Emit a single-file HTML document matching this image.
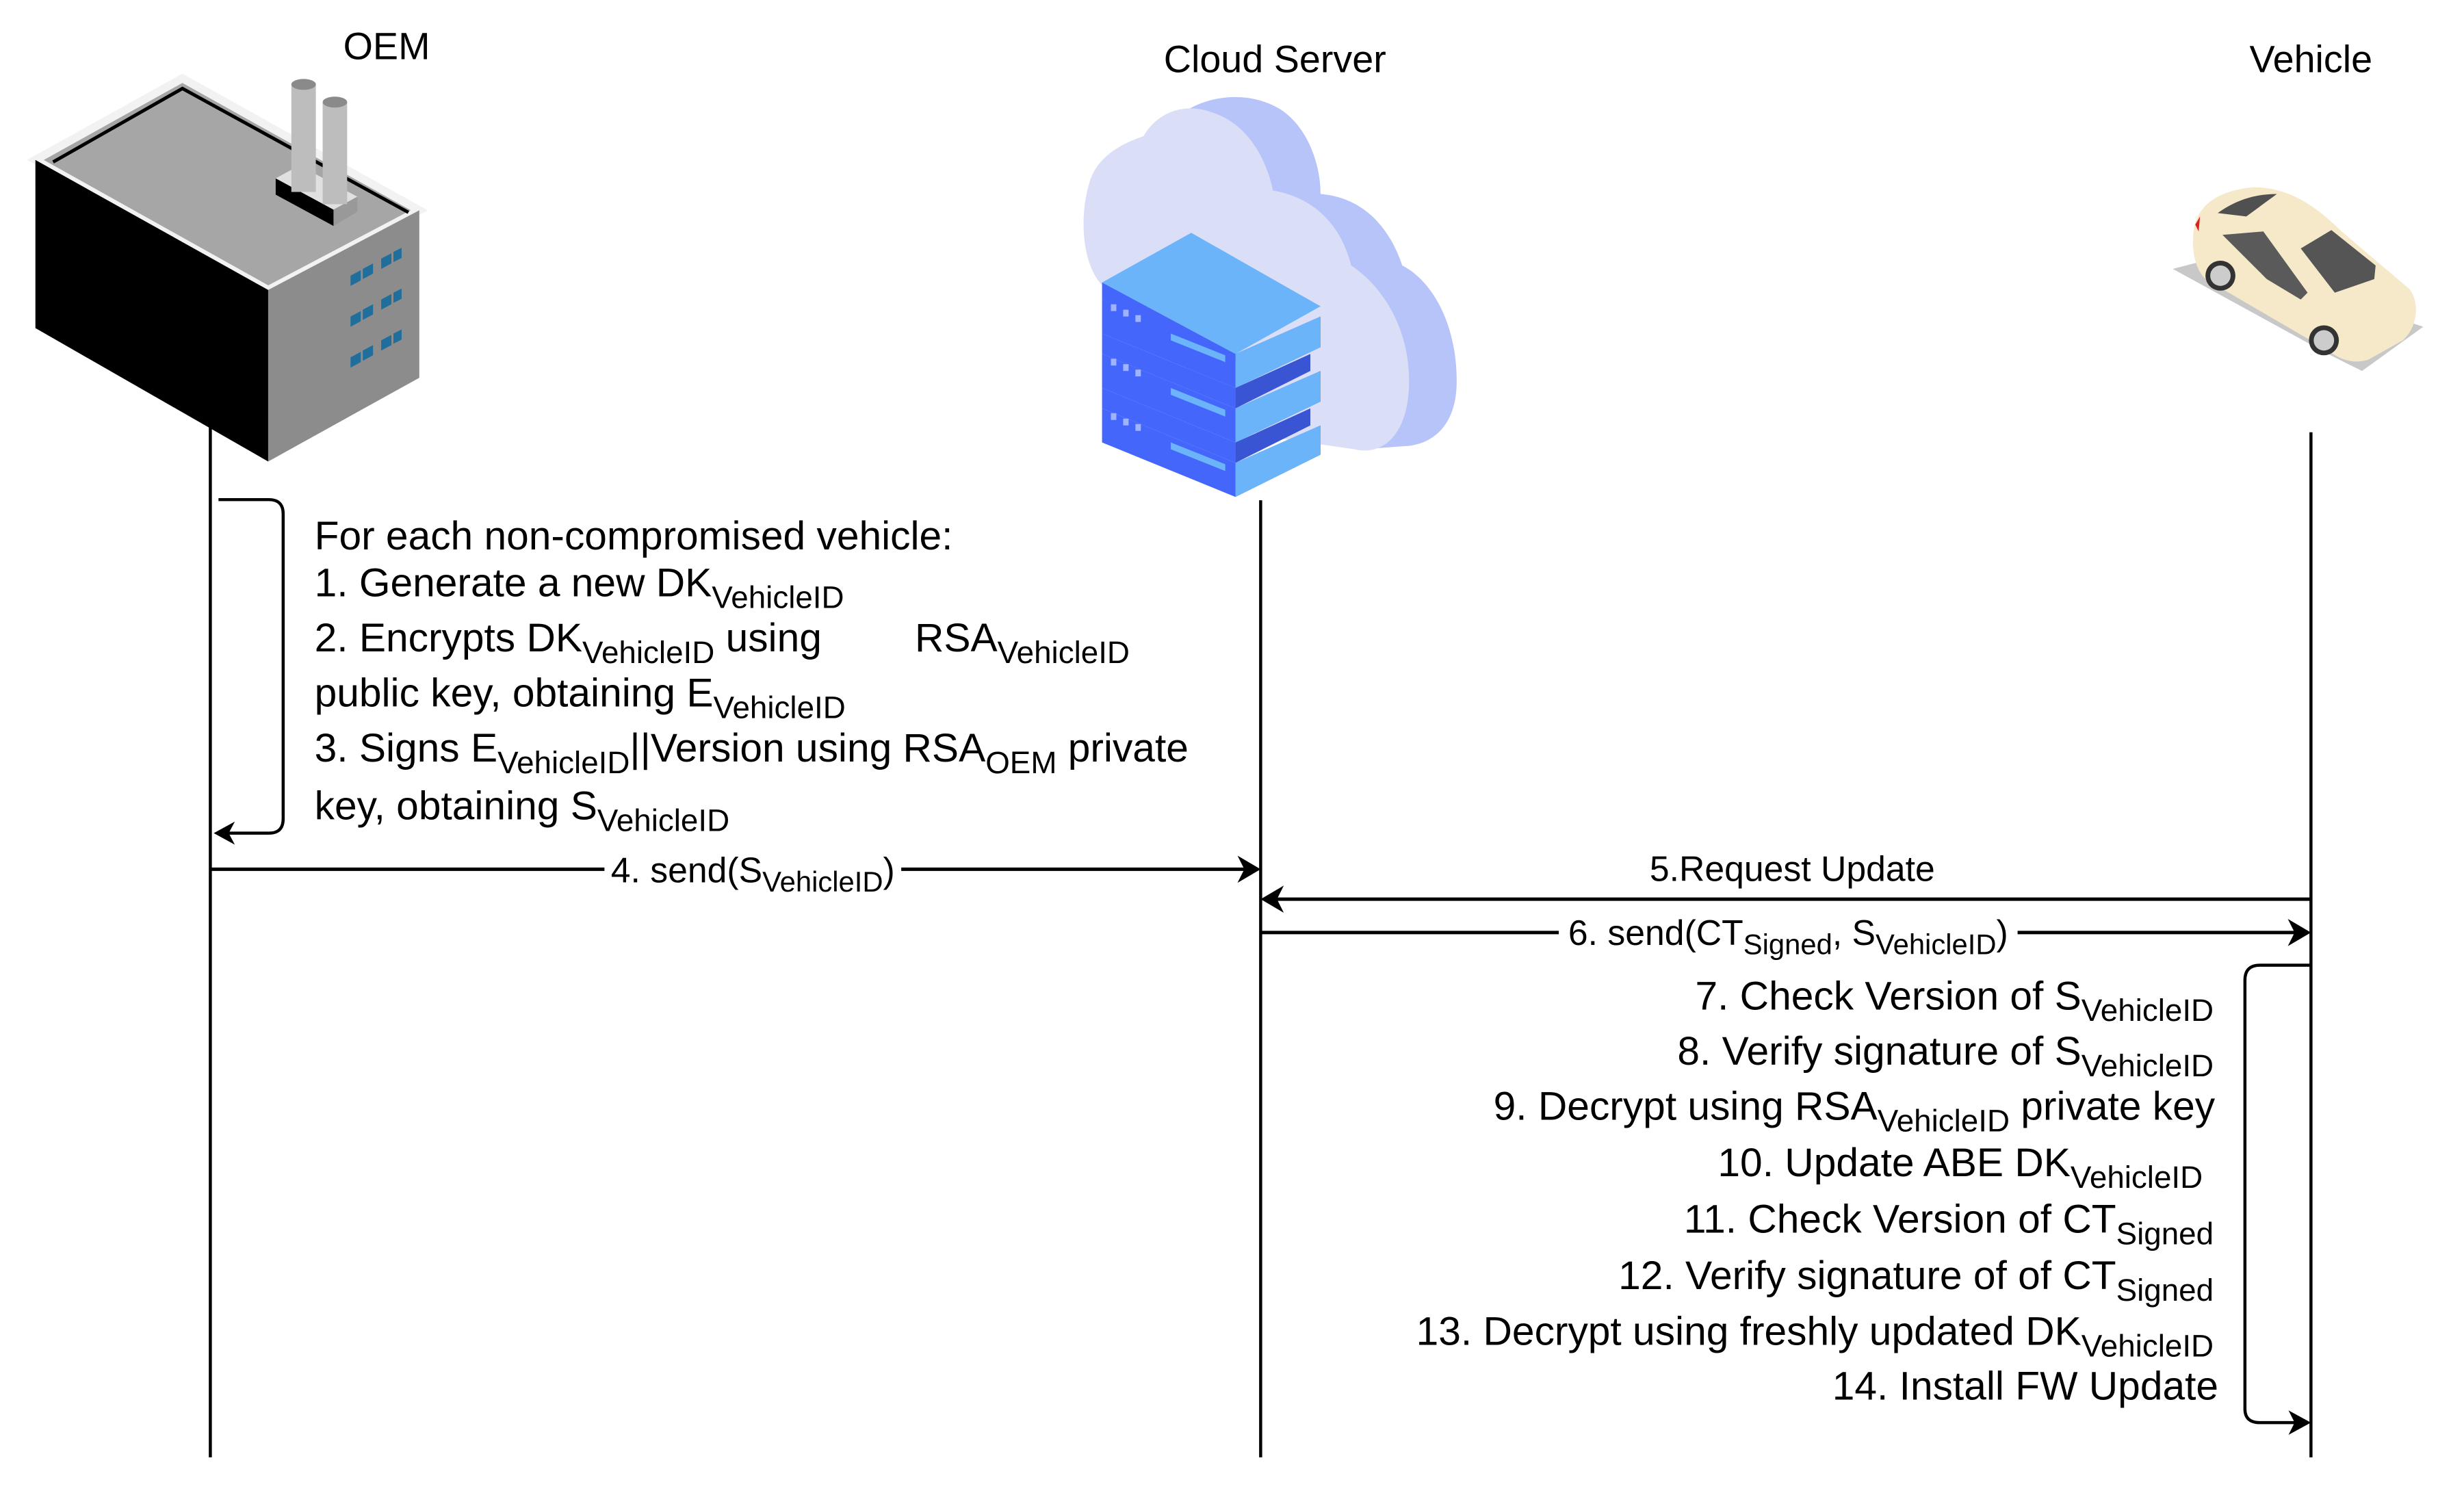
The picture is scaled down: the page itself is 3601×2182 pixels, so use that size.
<!DOCTYPE html>
<html><head><meta charset="utf-8"><style>
html,body{margin:0;padding:0;background:#fff;}
svg{display:block;}
text{font-family:"Liberation Sans",Arial,sans-serif;fill:#000;}
</style></head><body>
<svg width="3601" height="2182" viewBox="0 0 3601 2182" xmlns="http://www.w3.org/2000/svg">
<g transform="scale(0.9948)">
<!-- Titles -->
<text x="568" y="87" font-size="56" text-anchor="middle">OEM</text>
<text x="1873" y="106" font-size="56" text-anchor="middle">Cloud Server</text>
<text x="3395" y="106" font-size="56" text-anchor="middle">Vehicle</text>

<!-- Factory -->
<g>
<polygon points="52,235 268,115 616,309 394,426" fill="#a6a6a6"/>
<polygon points="52,235 268,115 616,309 394,426" fill="none" stroke="#f2f2f2" stroke-width="12"/>
<polyline points="78,238 268,130 600,312" fill="none" stroke="#000" stroke-width="5"/>
<polygon points="52,235 394,426 394,678 52,482" fill="#000"/>
<polygon points="394,426 616,309 616,555 394,678" fill="#8c8c8c"/>
<polygon points="405,262 490,308 490,332 405,286" fill="#000"/>
<polygon points="405,262 440,243 525,289 490,308" fill="#e0e0e0"/>
<polygon points="490,308 525,289 525,311 490,332" fill="#999"/>
<rect x="428" y="122" width="36" height="160" fill="#bdbdbd"/>
<ellipse cx="446" cy="124" rx="18" ry="8" fill="#8a8a8a"/>
<rect x="474" y="150" width="36" height="150" fill="#bdbdbd"/>
<ellipse cx="492" cy="150" rx="18" ry="8" fill="#8a8a8a"/>
<g fill="#1f6e9c">
<polygon points="515,405 530,397 530,412 515,420"/><polygon points="533,395 548,387 548,402 533,410"/>
<polygon points="560,380 575,372 575,387 560,395"/><polygon points="578,370 590,364 590,379 578,385"/>
<polygon points="515,465 530,457 530,472 515,480"/><polygon points="533,455 548,447 548,462 533,470"/>
<polygon points="560,440 575,432 575,447 560,455"/><polygon points="578,430 590,424 590,439 578,445"/>
<polygon points="515,525 530,517 530,532 515,540"/><polygon points="533,515 548,507 548,522 533,530"/>
<polygon points="560,500 575,492 575,507 560,515"/><polygon points="578,490 590,484 590,499 578,505"/>
</g>
</g>

<!-- Cloud -->
<g>
<path d="M1720,180 C1760,140 1830,130 1880,160 C1920,185 1940,240 1940,285 C2000,290 2040,330 2060,390 C2100,410 2140,470 2140,560 C2140,620 2110,650 2070,655 L2000,660 Z" fill="#b7c4f9"/>
<path d="M1600,270 C1610,230 1650,210 1680,200 C1700,165 1740,150 1780,165 C1830,180 1860,230 1870,280 C1930,290 1970,330 1985,390 C2030,420 2070,480 2070,560 C2070,640 2030,670 1990,660 L1850,640 L1620,420 C1590,390 1585,320 1600,270 Z" fill="#dadff7"/>
</g>
<!-- Server stack -->
<g>
<polygon points="1619,600 1815,680 1940,625 1940,668 1815,730 1619,650" fill="#4466fb"/>
<polygon points="1815,680 1940,625 1940,668 1815,730" fill="#6cb4f9"/>
<polygon points="1619,520 1815,600 1940,545 1940,590 1815,650 1619,570" fill="#4466fb"/>
<polygon points="1815,600 1940,545 1940,590 1815,650" fill="#6cb4f9"/>
<polygon points="1619,440 1815,520 1940,465 1940,510 1815,570 1619,490" fill="#4466fb"/>
<polygon points="1815,520 1940,465 1940,510 1815,570" fill="#6cb4f9"/>
<polygon points="1619,490 1815,570 1815,600 1619,520" fill="#4466fb"/>
<polygon points="1619,570 1815,650 1815,680 1619,600" fill="#4466fb"/>
<polygon points="1619,415 1750,342 1940,450 1815,520" fill="#6cb4f9"/>
<polygon points="1619,415 1815,520 1815,530 1619,440" fill="#4466fb"/>
<polygon points="1815,570 1925,520 1925,545 1815,600" fill="#3a55d4"/>
<polygon points="1815,650 1925,600 1925,625 1815,680" fill="#3a55d4"/>
<g fill="#9fb3ff"><rect x="1632" y="447" width="8" height="10"/><rect x="1650" y="455" width="8" height="10"/><rect x="1668" y="463" width="8" height="10"/>
<rect x="1632" y="527" width="8" height="10"/><rect x="1650" y="535" width="8" height="10"/><rect x="1668" y="543" width="8" height="10"/>
<rect x="1632" y="607" width="8" height="10"/><rect x="1650" y="615" width="8" height="10"/><rect x="1668" y="623" width="8" height="10"/></g>
<g fill="#6cb4f9"><polygon points="1720,490 1800,522 1800,532 1720,500"/><polygon points="1720,570 1800,602 1800,612 1720,580"/><polygon points="1720,650 1800,682 1800,692 1720,660"/></g>
</g>

<!-- Car -->
<g>
<polygon points="3192,395 3420,520 3470,545 3560,480 3250,380" fill="#c8c8c8"/>
<path d="M3222,345 C3225,300 3260,280 3310,275 C3360,275 3400,300 3440,340 L3540,425 C3555,445 3552,480 3530,500 L3480,528 C3460,535 3440,530 3420,515 L3240,410 C3225,395 3220,370 3222,345 Z" fill="#f5e9c9"/>
<path d="M3258,313 C3290,290 3320,285 3345,285 L3300,318 Z" fill="#505050"/>
<path d="M3265,345 L3325,340 L3390,430 L3380,440 L3330,410 Z" fill="#5a5a5a"/>
<path d="M3380,365 L3425,338 L3490,390 L3488,410 L3430,430 Z" fill="#555"/>
<circle cx="3262" cy="405" r="22" fill="#333"/><circle cx="3262" cy="405" r="15" fill="#ccc"/>
<circle cx="3414" cy="500" r="22" fill="#333"/><circle cx="3414" cy="500" r="15" fill="#ccc"/>
<path d="M3225,330 L3232,318 L3230,340 Z" fill="#d22"/>
</g>

<!-- Lifelines -->
<g stroke="#000" stroke-width="4.5" fill="none">
<line x1="309" y1="624" x2="309" y2="2141"/>
<line x1="1852" y1="735" x2="1852" y2="2141"/>
<line x1="3395" y1="635" x2="3395" y2="2141"/>
</g>

<!-- OEM self loop -->
<path d="M321,734 L395,734 Q416,734 416,755 L416,1203 Q416,1224 395,1224 L330,1224" fill="none" stroke="#000" stroke-width="4.5"/>
<polygon points="314,1224 345,1207 336,1224 345,1241" fill="#000"/>

<!-- Arrow 4 -->
<line x1="309" y1="1277" x2="1835" y2="1277" stroke="#000" stroke-width="5"/>
<polygon points="1852,1277 1818,1257 1828,1277 1818,1297" fill="#000"/>
<rect x="888" y="1250" width="436" height="70" fill="#fff"/>
<text x="1106" y="1296" font-size="52" text-anchor="middle">4. send(S<tspan font-size="42" dy="14">VehicleID</tspan><tspan dy="-14">)</tspan></text>

<!-- Arrow 5 -->
<text x="2633" y="1294" font-size="52" text-anchor="middle">5.Request Update</text>
<line x1="3395" y1="1321" x2="1868" y2="1321" stroke="#000" stroke-width="5"/>
<polygon points="1852,1321 1886,1301 1876,1321 1886,1341" fill="#000"/>

<!-- Arrow 6 -->
<line x1="1852" y1="1370" x2="3378" y2="1370" stroke="#000" stroke-width="5"/>
<polygon points="3395,1370 3361,1350 3371,1370 3361,1390" fill="#000"/>
<rect x="2290" y="1340" width="674" height="72" fill="#fff"/>
<text x="2627" y="1388" font-size="52" text-anchor="middle">6. send(CT<tspan font-size="42" dy="14">Signed</tspan><tspan dy="-14">, S</tspan><tspan font-size="42" dy="14">VehicleID</tspan><tspan dy="-14">)</tspan></text>

<!-- Vehicle self loop -->
<path d="M3393,1418 L3320,1418 Q3298,1418 3298,1440 L3298,2070 Q3298,2090 3320,2090 L3380,2090" fill="none" stroke="#000" stroke-width="4.5"/>
<polygon points="3395,2090 3362,2072 3371,2090 3362,2108" fill="#000"/>

<!-- Left text block -->
<g font-size="59">
<text x="462" y="807">For each non-compromised vehicle:</text>
<text x="462" y="876">1. Generate a new DK<tspan font-size="46" dy="17">VehicleID</tspan></text>
<text x="462" y="957">2. Encrypts DK<tspan font-size="46" dy="17">VehicleID</tspan><tspan dy="-17"> using</tspan></text>
<text x="1344" y="957">RSA<tspan font-size="46" dy="17">VehicleID</tspan></text>
<text x="462" y="1038">public key, obtaining E<tspan font-size="46" dy="17">VehicleID</tspan></text>
<text x="462" y="1119">3. Signs E<tspan font-size="46" dy="17">VehicleID</tspan><tspan dy="-17">||Version using RSA</tspan><tspan font-size="46" dy="17">OEM</tspan><tspan dy="-17"> private</tspan></text>
<text x="462" y="1204">key, obtaining S<tspan font-size="46" dy="17">VehicleID</tspan></text>
</g>

<!-- Right text block -->
<g font-size="59" text-anchor="end">
<text x="3252" y="1483">7. Check Version of S<tspan font-size="46" dy="17">VehicleID</tspan></text>
<text x="3252" y="1564">8. Verify signature of S<tspan font-size="46" dy="17">VehicleID</tspan></text>
<text x="3254" y="1645">9. Decrypt using RSA<tspan font-size="46" dy="17">VehicleID</tspan><tspan dy="-17"> private key</tspan></text>
<text x="3236" y="1728">10. Update ABE DK<tspan font-size="46" dy="17">VehicleID</tspan></text>
<text x="3252" y="1811">11. Check Version of CT<tspan font-size="46" dy="17">Signed</tspan></text>
<text x="3252" y="1894">12. Verify signature of of CT<tspan font-size="46" dy="17">Signed</tspan></text>
<text x="3252" y="1976">13. Decrypt using freshly updated DK<tspan font-size="46" dy="17">VehicleID</tspan></text>
<text x="3259" y="2056">14. Install FW Update</text>
</g>
</g>
</svg>
</body></html>
